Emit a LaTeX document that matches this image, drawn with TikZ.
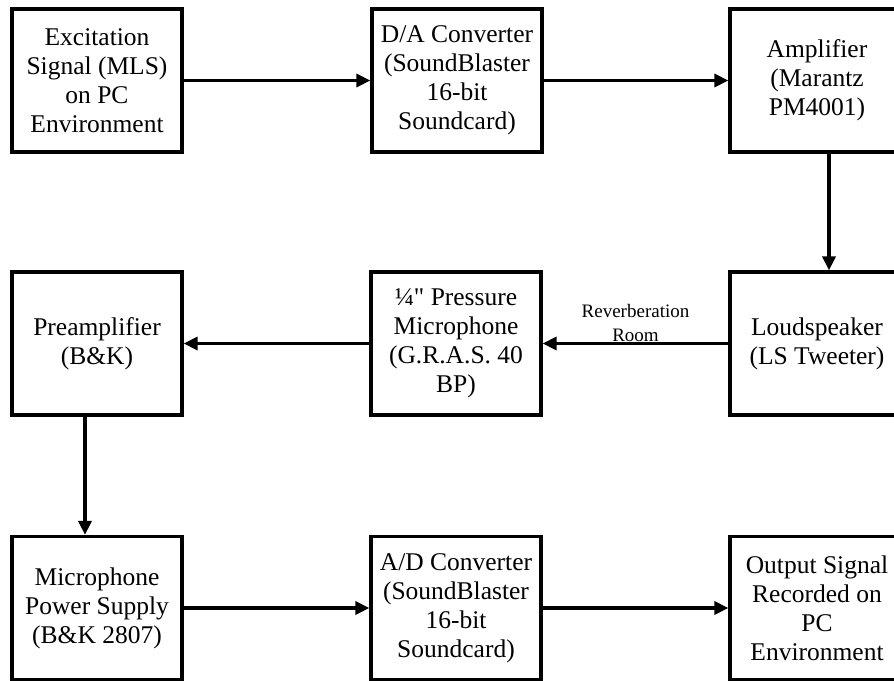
\documentclass[tikz,border=0pt]{standalone}
\usepackage{fontspec}
\setmainfont{Liberation Serif}[Ligatures=TeXOff]
\usetikzlibrary{arrows.meta}

\begin{document}
\begin{tikzpicture}[x=1pt, y=-1pt, >={Triangle[length=14pt,width=13pt]}, line join=miter,
		box/.style={draw, line width=3.2pt, minimum width=170pt, minimum height=143pt, inner sep=0pt, align=center, font=\fontsize{25.5}{29}\selectfont},
		wide/.style={box, minimum width=174pt},
		flow/.style={->, line width=3.2pt}]
		\clip (0,0) rectangle (894,680);
		% top row
		\node[box] (exc) at (97,80.5) {Excitation\\Signal (MLS)\\on PC\\Environment};
		\node[box] (dac) at (457,80.5) {D/A Converter\\(SoundBlaster\\16-bit\\Soundcard)};
		\node[wide] (amp) at (817,80.5) {Amplifier\\(Marantz\\PM4001)};
		% middle row
		\node[box] (pre) at (97,343.5) {Preamplifier\\(B\&K)};
		\node[box] (mic) at (456,343.5) {¼" Pressure\\Microphone\\(G.R.A.S. 40\\BP)};
		\node[wide] (spk) at (817,343.5) {Loudspeaker\\(LS Tweeter)};
		% bottom row
		\node[box] (psu) at (97,608) {Microphone\\Power Supply\\(B\&K 2807)};
		\node[box] (adc) at (456,608) {A/D Converter\\(SoundBlaster\\16-bit\\Soundcard)};
		\node[wide] (out) at (817,608) {Output Signal\\Recorded on\\PC\\Environment};
		% connectors
		\draw[flow] (exc) -- (dac);
		\draw[flow] (dac) -- (amp);
		\draw[flow] ([xshift=12pt]amp.south) -- ([xshift=12pt]spk.north);
		\draw[flow] (spk) -- node[midway, yshift=21pt, align=center, font=\fontsize{19}{24}\selectfont] (rev) {Reverberation\\Room} (mic);
		\draw[flow] (mic) -- (pre);
		\draw[flow] ([xshift=-12pt]pre.south) -- ([xshift=-12pt]psu.north);
		\draw[flow] (psu) -- (adc);
		\draw[flow] (adc) -- (out);
	\end{tikzpicture}
\end{document}
